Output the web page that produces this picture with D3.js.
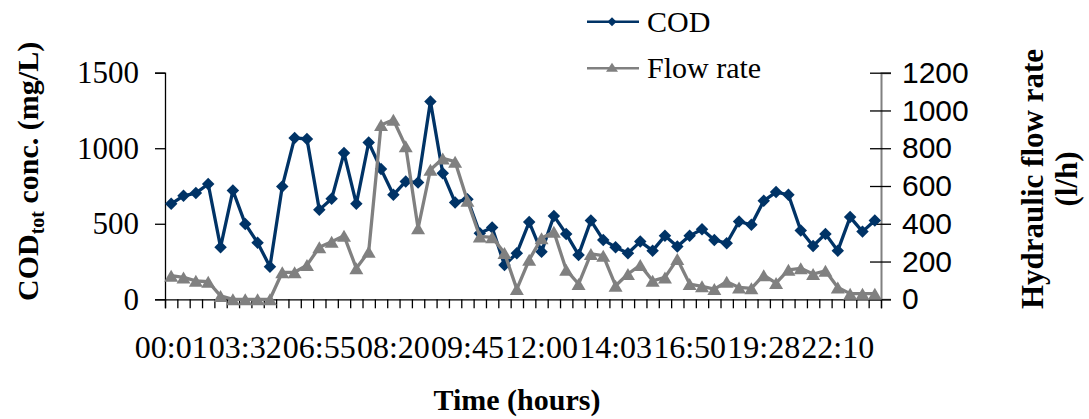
<!DOCTYPE html>
<html><head><meta charset="utf-8">
<script src="https://cdn.jsdelivr.net/npm/d3@7"></script>
<style>body{margin:0;background:#fff}svg{display:block}</style>
</head><body><svg id="c" width="1089" height="419"></svg>
<script>
// ---- data ----
const tickLabels = ["00:01","03:32","06:55","08:20","09:45","12:00","14:03","16:50","19:28","22:10"];
const labelEvery = 6;
const sampleCount = 58;
const cod = [632,685,703,763,345,720,499,375,216,747,1068,1061,592,665,968,632,1038,862,692,780,
  773,1310,835,641,663,438,475,227,305,511,314,552,433,294,521,393,345,305,382,322,
  420,349,420,464,393,371,515,493,652,710,692,455,353,433,322,544,448,521];
const flow = [125,116,98,93,18,0,0,0,0,143,143,181,275,305,337,164,252,923,951,810,
  376,686,746,729,522,333,328,245,54,209,323,358,156,81,240,231,72,134,181,98,
  116,213,81,69,54,93,63,58,128,86,156,164,134,151,63,30,30,30];
const leftTicks = [0,500,1000,1500];
const rightTicks = [0,200,400,600,800,1000,1200];

// ---- layout ----
const svg = d3.select("#c");
const L = 165, R = 881, T = 72.7, B = 299.3;
const serif = "'Liberation Serif','Times New Roman',serif";
const sans = "'Liberation Sans',Arial,sans-serif";
const codColor = "#003366", flowColor = "#808080";
const fmt = d3.format("d");

const idx = d3.range(sampleCount);
const x = d3.scaleBand().domain(idx).range([L, R]);
const xEdge = d3.scaleLinear().domain([0, sampleCount]).range([L, R]);
const yL = d3.scaleLinear().domain([0,1500]).range([B, T]);
const yR = d3.scaleLinear().domain([0,1200]).range([B, T]);
const cx = i => x(i) + x.bandwidth()/2;

// left axis
const gL = svg.append("g").attr("transform",`translate(${L},0)`)
  .call(d3.axisLeft(yL).tickValues(leftTicks).tickFormat(fmt).tickSize(10).tickPadding(16));
gL.select(".domain").attr("stroke","#000").attr("stroke-width",1.3);
gL.selectAll(".tick line").attr("stroke","#000").attr("stroke-width",1.3);
gL.selectAll("text").attr("font-family",serif).attr("font-size",31).attr("fill","#000");

// right axis
const gR = svg.append("g").attr("transform",`translate(${R},0)`)
  .call(d3.axisRight(yR).tickValues(rightTicks).tickFormat(fmt).tickSize(10).tickPadding(11));
gR.select(".domain").attr("stroke",flowColor).attr("stroke-width",2);
gR.selectAll(".tick line").attr("x1",-11).attr("stroke","#000").attr("stroke-width",1.3);
gR.selectAll("text").attr("font-family",sans).attr("font-size",30).attr("fill","#000");

// bottom axis: ticks at category boundaries
const gB = svg.append("g").attr("transform",`translate(0,${B})`)
  .call(d3.axisBottom(xEdge).tickValues(d3.range(sampleCount+1)).tickSize(9).tickFormat(""));
gB.select(".domain").attr("stroke","#000").attr("stroke-width",1.3);
gB.selectAll(".tick line").attr("stroke","#000").attr("stroke-width",1.3);

// bottom labels
const labelIdx = tickLabels.map((_, k) => k*labelEvery);
const gBL = svg.append("g").attr("transform",`translate(0,${B})`)
  .call(d3.axisBottom(x).tickValues(labelIdx).tickSize(0).tickFormat(i => tickLabels[i/labelEvery]));
gBL.select(".domain").remove();
gBL.selectAll("text").attr("y",59).attr("dy",0).attr("font-family",serif).attr("font-size",32).attr("fill","#000");

// markers
const diamond = d3.symbol(d3.symbolSquare, 78);
const triPath = (w,h) => `M0,${-h/2}L${w/2},${h/2}L${-w/2},${h/2}Z`;

// COD series
const lineL = d3.line().x((d,i)=>cx(i)).y(d=>yL(d));
svg.append("path").datum(cod).attr("d",lineL).attr("fill","none")
  .attr("stroke",codColor).attr("stroke-width",3.3).attr("stroke-linejoin","round");
svg.append("g").selectAll("path").data(cod).join("path")
  .attr("d",diamond).attr("fill",codColor)
  .attr("transform",(d,i)=>`translate(${cx(i)},${yL(d)}) rotate(45)`);

// Flow series
const lineR = d3.line().x((d,i)=>cx(i)).y(d=>yR(d));
svg.append("path").datum(flow).attr("d",lineR).attr("fill","none")
  .attr("stroke",flowColor).attr("stroke-width",3.3).attr("stroke-linejoin","round");
svg.append("g").selectAll("path").data(flow).join("path")
  .attr("d",triPath(14,12)).attr("fill",flowColor)
  .attr("transform",(d,i)=>`translate(${cx(i)},${yR(d)})`);

// legend
const leg = [{name:"COD", c:codColor, y:21.7, m:"d"},{name:"Flow rate", c:flowColor, y:68.3, m:"t"}];
const lg = svg.append("g");
leg.forEach(s=>{
  lg.append("line").attr("x1",587).attr("x2",639).attr("y1",s.y).attr("y2",s.y)
    .attr("stroke",s.c).attr("stroke-width",2.5);
  if (s.m==="d") lg.append("path").attr("d",d3.symbol(d3.symbolSquare,40)()).attr("fill",s.c)
    .attr("transform",`translate(612,${s.y}) rotate(45)`);
  else lg.append("path").attr("d",triPath(12,9)).attr("fill",s.c).attr("transform",`translate(612,${s.y-1})`);
  lg.append("text").attr("x",647).attr("y",s.y+10).attr("font-family",serif).attr("font-size",30)
    .attr("fill","#000").text(s.name);
});

// axis titles
const tL = svg.append("text").attr("transform","translate(38,301) rotate(-90)")
  .attr("font-family",serif).attr("font-weight","bold").attr("font-size",30).attr("fill","#000");
tL.append("tspan").text("COD");
tL.append("tspan").attr("font-size",20).attr("dy",6).text("tot");
tL.append("tspan").attr("dy",-6).text(" conc. (mg/L)");

const tR = svg.append("text").attr("transform","translate(1043,179) rotate(-90)")
  .attr("font-family",serif).attr("font-weight","bold").attr("font-size",31).attr("fill","#000")
  .attr("text-anchor","middle");
tR.append("tspan").attr("x",0).attr("y",0).text("Hydraulic flow rate");
tR.append("tspan").attr("x",0).attr("y",34).text("(l/h)");

svg.append("text").attr("x",517).attr("y",410).attr("text-anchor","middle")
  .attr("font-family",serif).attr("font-weight","bold").attr("font-size",30).attr("fill","#000")
  .text("Time (hours)");
</script></body></html>
